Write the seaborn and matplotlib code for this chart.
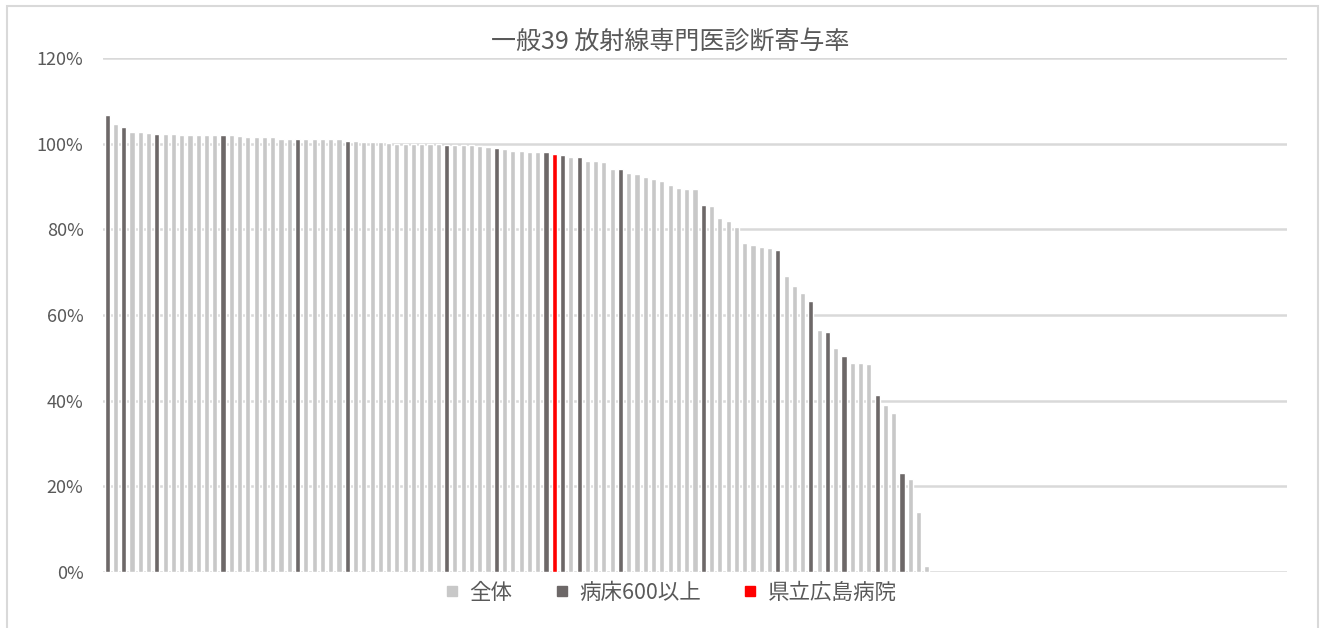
import numpy as np
import pandas as pd
import matplotlib
matplotlib.use('Agg')
import matplotlib.pyplot as plt
from matplotlib.lines import Line2D
from matplotlib.patches import Rectangle
import seaborn as sns

# Datos (porcentaje, ordenados de mayor a menor)
valores = [
    106.7, 104.5, 104.0, 102.8, 102.8, 102.6, 102.3, 102.3, 102.3, 102.0,
    102.0, 102.0, 102.0, 102.0, 102.0, 102.0, 101.7, 101.6, 101.6, 101.5,
    101.5, 101.2, 101.2, 101.2, 101.2, 101.1, 101.0, 101.0, 101.0, 100.7,
    100.7, 100.4, 100.4, 100.4, 100.2, 100.0, 100.0, 100.0, 100.0, 100.0,
    100.0, 99.7, 99.6, 99.6, 99.6, 99.4, 99.2, 99.0, 98.7, 98.4,
    98.2, 98.0, 98.0, 98.0, 97.7, 97.4, 96.9, 96.9, 96.0, 96.0,
    95.7, 94.1, 94.1, 93.1, 93.0, 92.2, 91.8, 91.2, 90.4, 89.6,
    89.5, 89.3, 85.7, 85.4, 82.6, 81.9, 80.5, 76.8, 76.4, 75.9,
    75.6, 75.2, 69.2, 66.8, 65.1, 63.2, 56.4, 56.1, 52.4, 50.5,
    48.9, 48.9, 48.6, 41.3, 39.0, 37.2, 23.1, 21.7, 14.1, 1.3,
]
indices_600 = [0, 2, 6, 14, 23, 29, 41, 47, 53, 55, 57, 62, 72, 81, 85, 87, 89, 93, 96]
indice_hiroshima = 54
n_categorias = 143  # el eje incluye posiciones vacías a la derecha

grupos = ['全体', '病床600以上', '県立広島病院']
colores = {'全体': '#C8C8C8', '病床600以上': '#6D6868', '県立広島病院': '#FF0000'}

grupo = []
for i in range(len(valores)):
    if i == indice_hiroshima:
        grupo.append('県立広島病院')
    elif i in indices_600:
        grupo.append('病床600以上')
    else:
        grupo.append('全体')

df = pd.DataFrame({'pos': list(range(len(valores))), 'valor': valores, 'grupo': grupo})

sns.set_theme(style="white")
plt.rcParams['font.family'] = ['Noto Sans CJK JP', 'DejaVu Sans']

fig = plt.figure(figsize=(13.25, 6.28), dpi=100)
ax = fig.add_axes([103 / 1325, 1 - 572 / 628, (1287 - 103) / 1325, (572 - 58) / 628])

sns.barplot(data=df, x='pos', y='valor', hue='grupo', hue_order=grupos,
            palette=colores, order=list(range(n_categorias)), dodge=False,
            width=0.62, saturation=1, legend=False, ax=ax, zorder=3)

ax.set_ylim(0, 120)
ax.set_xlim(-0.5, n_categorias - 0.5)
ax.set_yticks(range(0, 121, 20))
ax.set_yticklabels([f'{t}%' for t in range(0, 121, 20)], color='#595959', fontsize=13)
ax.set_xticks([])
ax.set_xlabel('')
ax.set_ylabel('')
ax.tick_params(axis='y', length=0, pad=14)
for t in range(0, 121, 20):
    ax.axhline(t, color='#D9D9D9', lw=1.8, zorder=1)
for s in ax.spines.values():
    s.set_visible(False)

fig.text(0.5056, 1 - 42 / 628, '一般39 放射線専門医診断寄与率', ha='center', va='center',
         fontsize=18, color='#595959')

handles = [Line2D([0], [0], marker='s', linestyle='', markersize=7,
                  markerfacecolor=colores[g], markeredgecolor=colores[g]) for g in grupos]
fig.legend(handles, grupos, loc='center', bbox_to_anchor=(0.5056, 1 - 593 / 628),
           ncol=3, frameon=False, fontsize=15.5, labelcolor='#595959',
           handlelength=0.8, handletextpad=0.4, columnspacing=1.9)

fig.patches.append(Rectangle((7 / 1325, -0.02), (1318 - 7) / 1325, 1 - 6 / 628 + 0.02,
                             transform=fig.transFigure, fill=False,
                             edgecolor='#D9D9D9', lw=1.5))

fig.savefig('out.png', dpi=100, facecolor='white')
